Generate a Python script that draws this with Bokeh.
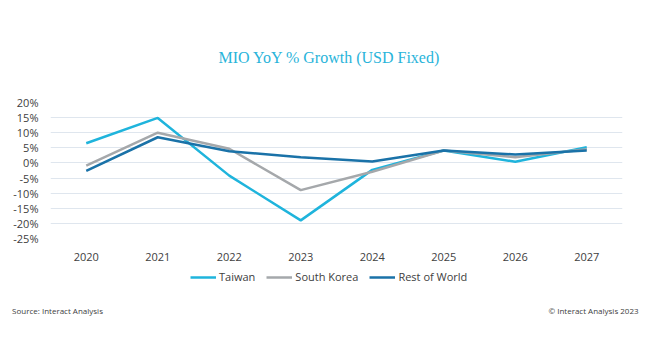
from bokeh.plotting import figure
from bokeh.layouts import column
from bokeh.models import Label, Legend, LegendItem, FixedTicker, Range1d, LinearAxis
from bokeh.embed import file_html
from bokeh.resources import INLINE

years = ["2020", "2021", "2022", "2023", "2024", "2025", "2026", "2027"]
taiwan = [6.5, 14.9, -4.2, -19.0, -2.3, 4.1, 0.4, 5.2]
south_korea = [-0.9, 10.0, 4.7, -9.0, -2.9, 4.1, 1.9, 4.5]
rest_of_world = [-2.6, 8.5, 3.9, 1.9, 0.5, 4.1, 2.8, 4.1]
series_names = ["Taiwan", "South Korea", "Rest of World"]
series_colors = ["#1fb4dc", "#a5a8ab", "#1a72a8"]
y_ticks = [-25, -20, -15, -10, -5, 0, 5, 10, 15, 20]
title_text = "MIO YoY % Growth (USD Fixed)"
source_text = "Source: Interact Analysis"
copyright_text = "© Interact Analysis 2023"

FONT = "Open Sans"
W = 645
LEFT, RIGHT = 50, 23


def strip(height, top=0, bottom=0):
    f = figure(width=W, height=height, output_backend="svg", toolbar_location=None,
               x_axis_type=None, y_axis_type=None,
               min_border_left=LEFT, min_border_right=RIGHT,
               min_border_top=top, min_border_bottom=bottom,
               x_range=Range1d(0, W - LEFT - RIGHT), y_range=Range1d(1000, 1001))
    f.outline_line_color = None
    f.xgrid.visible = False
    f.ygrid.visible = False
    f.border_fill_color = "white"
    f.background_fill_color = "white"
    return f


# --- title strip ---
top = strip(92)
top.add_layout(Label(x=329 - LEFT, y=35, x_units="screen", y_units="screen", text=title_text,
                     text_font="Liberation Serif", text_font_size="16px", text_color="#29b4da",
                     text_align="center", text_baseline="middle"))

# --- main chart ---
p = figure(width=W, height=172, x_range=years, y_range=Range1d(-25, 20),
           output_backend="svg", toolbar_location=None,
           min_border_left=LEFT, min_border_right=RIGHT, min_border_top=10, min_border_bottom=26)
p.outline_line_color = None
p.background_fill_color = "white"
p.border_fill_color = "white"
p.yaxis.ticker = FixedTicker(ticks=y_ticks)
p.yaxis.major_label_overrides = {t: f"{t}%" for t in y_ticks}
for ax in (p.xaxis, p.yaxis):
    ax.axis_line_color = None
    ax.major_tick_line_color = None
    ax.minor_tick_line_color = None
    ax.major_label_text_font = FONT
    ax.major_label_text_font_size = "11px"
    ax.major_label_text_color = "#404040"
p.xaxis.major_label_standoff = 8
p.yaxis.major_label_standoff = 6
p.xgrid.grid_line_color = None
p.ygrid.grid_line_color = "#dfe6ee"
p.ygrid.grid_line_width = 1

series = [taiwan, south_korea, rest_of_world]
for vals, col in zip(series, series_colors):
    p.line(years, vals, line_color=col, line_width=2.5)

# --- legend and footer strip ---
bot = strip(86, top=0, bottom=50)
items = []
for name, col, vals in zip(series_names, series_colors, series):
    # legend proxy (same series, outside this strip's visible range)
    r = bot.line(list(range(len(vals))), vals, line_color=col, line_width=2.5)
    items.append(LegendItem(label=name, renderers=[r]))
legend = Legend(items=items, orientation="horizontal", location=(190 - LEFT, 16),
                label_text_font=FONT, label_text_font_size="11px", label_text_color="#404040",
                glyph_width=26, glyph_height=12, label_height=12, label_standoff=3, spacing=11,
                border_line_color=None, background_fill_alpha=0, padding=0, margin=0)
bot.add_layout(legend)

foot = LinearAxis(ticker=FixedTicker(ticks=[7, 543]),
                  major_label_overrides={7: source_text, 543: copyright_text})
foot.axis_line_color = None
foot.major_tick_line_color = None
foot.minor_tick_line_color = None
foot.major_tick_out = 0
foot.major_label_text_font = FONT
foot.major_label_text_font_size = "8px"
foot.major_label_text_color = "#404040"
foot.major_label_standoff = 4
bot.add_layout(foot, "below")

layout = column(top, p, bot, spacing=0)
open("out.html", "w").write(file_html(layout, INLINE))
